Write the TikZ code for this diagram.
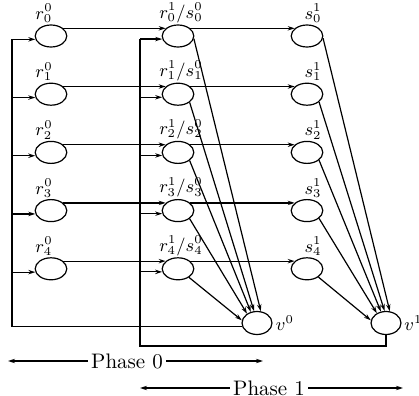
\documentclass[tikz,border=0pt]{standalone}
\usetikzlibrary{shapes.geometric,arrows.meta}
\begin{document}
\begin{tikzpicture}[x=0.5pt,y=-0.5pt,
  nd/.style={ellipse,draw,line width=0.6pt,minimum width=15.8pt,minimum height=11pt,inner sep=0pt},
  vnd/.style={nd,minimum width=15pt,minimum height=11.5pt},
  lbl/.style={font=\fontsize{9}{10}\selectfont,inner sep=0.6pt,anchor=south},
  ln/.style={line width=0.6pt},
  arr/.style={ln,-{Stealth[length=3.5pt,width=2.2pt]}},
  ph/.style={font=\fontsize{10.5}{12}\selectfont,inner sep=1.5pt}]
\useasboundingbox (0,0) rectangle (419,396);
\coordinate (xl) at (12,0);
\coordinate (xm) at (140,0);
\coordinate (yb) at (0,346);
\foreach \i/\y in {0/36,1/94.2,2/152.4,3/210.6,4/268.8}{
  \node[nd] (r\i) at (51,\y) {};
  \node[nd] (m\i) at (178,\y) {};
  \node[nd] (s\i) at (307,\y) {};
  \node[lbl,xshift=-3.5pt] (lr\i) at (r\i.north) {$r_{\i}^{0}$};
  \node[lbl,xshift=1.5pt] (lm\i) at (m\i.north) {$r_{\i}^{1}/s_{\i}^{0}$};
  \node[lbl,xshift=3pt] (ls\i) at (s\i.north) {$s_{\i}^{1}$};
}
\node[vnd] (v0) at (257,323) {};
\node[vnd] (v1) at (386,323) {};
\node[font=\fontsize{9}{10}\selectfont,inner sep=1.5pt,anchor=west] (lv0) at (v0.east) {$v^{0}$};
\node[font=\fontsize{9}{10}\selectfont,inner sep=1.2pt,anchor=west] (lv1) at (v1.east) {$v^{1}$};
% feedback loops
\draw[ln] (v0.194) -| (r0.192 -| xl);
\draw[ln] (v1.south) |- (xm |- yb) -- (m0.191 -| xm);
\foreach \i in {0,...,4}{
  \draw[arr] (r\i.192 -| xl) -- (r\i.192);
  \draw[arr] (m\i.191 -| xm) -- (m\i.191);
  \draw[arr] (r\i.32) -- (m\i.148);
  \draw[arr] (m\i.32) -- (s\i.148);
}
% diagonals to v0
\draw[arr] (m0.-10) -- (v0.72);
\draw[arr] (m1.-35) -- (v0.104);
\draw[arr] (m2.-35) -- (v0.119);
\draw[arr] (m3.-35) -- (v0.137);
\draw[arr] (m4.-38) -- (v0.170);
% diagonals to v1
\draw[arr] (s0.-8) -- (v1.72);
\draw[arr] (s1.-33) -- (v1.97);
\draw[arr] (s2.-33) -- (v1.114);
\draw[arr] (s3.-33) -- (v1.133);
\draw[arr] (s4.-36) -- (v1.170);
% phases
\node[ph] (p0) at (127,361) {Phase 0};
\node[ph] (p1) at (269,388) {Phase 1};
\coordinate (p0l) at (8,361);
\coordinate (p0r) at (263,361);
\coordinate (p1l) at (140,388);
\coordinate (p1r) at (403,388);
\draw[arr] (p0) -- (p0l);
\draw[arr] (p0) -- (p0r);
\draw[arr] (p1) -- (p1l);
\draw[arr] (p1) -- (p1r);
\end{tikzpicture}
\end{document}
